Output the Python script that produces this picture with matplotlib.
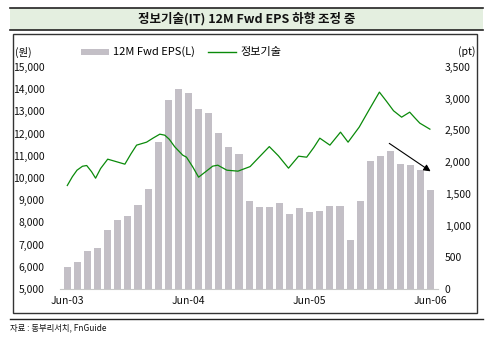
import matplotlib
matplotlib.use("Agg")
import matplotlib.pyplot as plt
from matplotlib.patches import Rectangle
from matplotlib.lines import Line2D

plt.rcParams['font.family'] = ['Noto Sans CJK KR', 'DejaVu Sans']

# ---- data ----
eps_values = [5980, 6220, 6710, 6840, 7660, 8110, 8290, 8790, 9510, 11630,
              13530, 14030, 13850, 13130, 12950, 12040, 11410, 11090, 8960, 8690,
              8690, 8870, 8380, 8650, 8470, 8510, 8740, 8740, 7210, 8960,
              10780, 11010, 11230, 10640, 10600, 10370, 9470]
months = list(range(len(eps_values)))

it_x = [0, 0.5, 0.96, 1.5, 1.92, 2.4, 2.8, 3.3, 4.0, 4.8, 5.7, 6.3, 6.86, 7.85,
        8.5, 9.16, 9.65, 10.1, 10.64, 11.43, 11.8, 12.4, 13.0, 13.7, 14.4, 14.9,
        15.8, 16.9, 18.1, 19.0, 20.0, 20.9, 21.9, 22.9, 23.7, 24.4, 25.0, 26.0,
        27.05, 27.8, 28.9, 29.9, 30.9, 31.6, 32.3, 33.1, 33.9, 34.4, 34.9, 35.9]
it_y = [1632, 1770, 1873, 1935, 1947, 1850, 1747, 1900, 2047, 2010, 1968, 2130,
        2268, 2315, 2380, 2441, 2425, 2360, 2241, 2110, 2078, 1930, 1763, 1850,
        1937, 1952, 1873, 1858, 1930, 2080, 2245, 2100, 1905, 2094, 2078, 2230,
        2378, 2268, 2473, 2315, 2552, 2830, 3104, 2960, 2810, 2709, 2788, 2700,
        2615, 2520]

xtick_pos = [0, 12, 24, 36]
xtick_labels = ['Jun-03', 'Jun-04', 'Jun-05', 'Jun-06']
left_ticks = list(range(5000, 15001, 1000))
right_ticks = list(range(0, 3501, 500))

W, H = 489, 341
fig = plt.figure(figsize=(W / 100, H / 100), dpi=100)

def fx(px):
    return px / W

def fy(py):
    return 1 - py / H

# decorations
fig.patches.append(Rectangle((fx(10), fy(30)), fx(473), 22 / H, transform=fig.transFigure,
                             facecolor='#e4efe0', edgecolor='none', zorder=0))
fig.lines.append(Line2D([fx(10), fx(483)], [fy(8), fy(8)], transform=fig.transFigure, color='#222222', lw=1.2))
fig.lines.append(Line2D([fx(10), fx(483)], [fy(30), fy(30)], transform=fig.transFigure, color='#222222', lw=1.2))
fig.patches.append(Rectangle((fx(13), fy(313)), fx(464), 279 / H, transform=fig.transFigure,
                             facecolor='none', edgecolor='#333333', lw=1.0, zorder=1))
fig.lines.append(Line2D([fx(10), fx(483)], [fy(319), fy(319)], transform=fig.transFigure, color='#222222', lw=1.0))

fig.text(fx(247), fy(19), '정보기술(IT) 12M Fwd EPS 하향 조정 중', ha='center', va='center',
         fontsize=9, fontweight='bold', color='#111111')
fig.text(fx(10), fy(328), '자료 : 동부리서치, FnGuide', ha='left', va='center',
         fontsize=6, fontstyle='italic', color='#111111')

# axes
left_px, right_px = 60, 438
ax = fig.add_axes([fx(left_px), fy(289), (right_px - left_px) / W, (289 - 67) / H])
ax.bar(months, [v - 5000 for v in eps_values], bottom=5000, width=0.7, color='#c3bfc6', zorder=2)
ax.set_ylim(5000, 15000)
ax.set_xlim((left_px - 67.3) / 10.1, (right_px - 67.3) / 10.1)
ax.set_yticks(left_ticks)
ax.set_yticklabels([f'{v:,}' for v in left_ticks])
ax.set_xticks(xtick_pos)
ax.set_xticklabels(xtick_labels)
for s in ['top', 'left', 'right']:
    ax.spines[s].set_visible(False)
ax.spines['bottom'].set_color('#c8c8c8')
ax.tick_params(axis='both', length=0, labelsize=7.5, colors='#111111')
ax.tick_params(axis='y', pad=11)
ax.tick_params(axis='x', pad=5)
ax.patch.set_alpha(0)

ax2 = ax.twinx()
ax2.plot(it_x, it_y, color='#0a8a0a', lw=0.9, zorder=3)
ax2.set_ylim(0, 3500)
ax2.set_yticks(right_ticks)
ax2.set_yticklabels([f'{v:,}' for v in right_ticks])
for s in ['top', 'left', 'right', 'bottom']:
    ax2.spines[s].set_visible(False)
ax2.tick_params(axis='y', length=0, labelsize=7.5, colors='#111111', pad=5)

ax.annotate('', xy=(36.2, 10230), xytext=(31.65, 11630),
            arrowprops=dict(arrowstyle='-|>', color='black', lw=0.8, mutation_scale=10), zorder=5)

# units and legend
fig.text(fx(15), fy(52), '(원)', ha='left', va='center', fontsize=7.5)
fig.text(fx(476), fy(52), '(pt)', ha='right', va='center', fontsize=7.5)
fig.patches.append(Rectangle((fx(81), fy(55)), 28 / W, 6 / H, transform=fig.transFigure,
                             facecolor='#c3bfc6', edgecolor='none'))
fig.text(fx(113), fy(52), '12M Fwd EPS(L)', ha='left', va='center', fontsize=8)
fig.lines.append(Line2D([fx(208), fx(236)], [fy(52), fy(52)], transform=fig.transFigure, color='#0a8a0a', lw=1))
fig.text(fx(240), fy(52), '정보기술', ha='left', va='center', fontsize=8)

fig.savefig('out.png', dpi=100)
